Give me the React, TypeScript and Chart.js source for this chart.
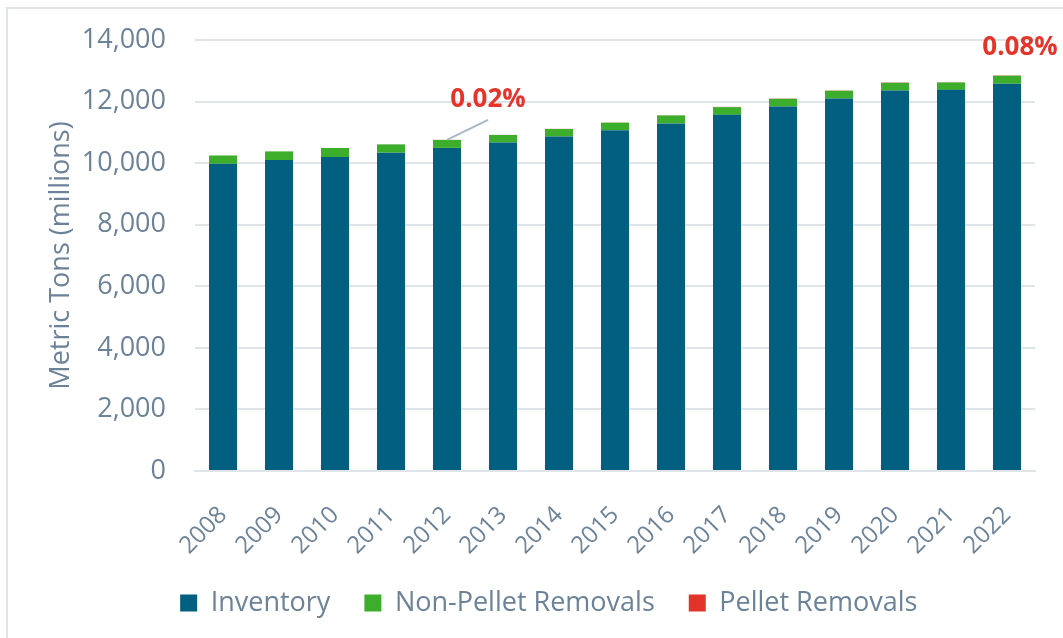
import React, { useEffect, useRef } from "react";
import { Chart, registerables } from "chart.js";

Chart.register(...registerables);

const years = ["2008", "2009", "2010", "2011", "2012", "2013", "2014", "2015", "2016", "2017", "2018", "2019", "2020", "2021", "2022"];
const inventory = [9980, 10100, 10200, 10340, 10495, 10670, 10865, 11070, 11290, 11570, 11840, 12100, 12360, 12380, 12580];
const nonPelletRemovals = [270, 282, 293, 270, 260, 245, 245, 245, 260, 250, 250, 250, 250, 240, 260];
const pelletRemovals = [0, 0, 0.5, 1, 2, 3, 4, 5, 6, 7, 8, 9, 9.5, 9, 10];
const yTicks = [0, 2000, 4000, 6000, 8000, 10000, 12000, 14000];
const annotationYears = ["2012", "2022"];
const annotationTexts = ["0.02%", "0.08%"];

const TEXT = "#6c8298";
const FONT = "'Open Sans', sans-serif";

const annotationPlugin = {
  id: "pctNotes",
  afterDatasetsDraw(chart: any) {
    const { ctx } = chart;
    const x = chart.scales.x;
    const y = chart.scales.y;
    annotationYears.forEach((yr, k) => {
      const i = years.indexOf(yr);
      const total = inventory[i] + nonPelletRemovals[i] + pelletRemovals[i];
      const px = x.getPixelForValue(i);
      const py = y.getPixelForValue(total);
      ctx.save();
      ctx.font = `bold 26px ${FONT}`;
      ctx.fillStyle = "#e5352b";
      ctx.textAlign = "center";
      ctx.textBaseline = "middle";
      if (k === 0) {
        ctx.strokeStyle = "#a9b8c5";
        ctx.lineWidth = 2;
        ctx.beginPath();
        ctx.moveTo(px, py);
        ctx.lineTo(px + 41, py - 20);
        ctx.stroke();
        ctx.fillText(annotationTexts[k], px + 41, py - 40);
      } else {
        ctx.fillText(annotationTexts[k], px + 13, py - 28);
      }
      ctx.restore();
    });
  },
};

export default function App() {
  const ref = useRef<HTMLCanvasElement>(null);
  useEffect(() => {
    const chart = new Chart(ref.current as HTMLCanvasElement, {
      type: "bar",
      data: {
        labels: years,
        datasets: [
          { label: "Inventory", data: inventory, backgroundColor: "#035f80" },
          { label: "Non-Pellet Removals", data: nonPelletRemovals, backgroundColor: "#3dae2b" },
          { label: "Pellet Removals", data: pelletRemovals, backgroundColor: "#e3342a" },
        ],
      },
      options: {
        responsive: false,
        animation: false,
        layout: { padding: { left: 62.5, right: 28, top: 40, bottom: 11.5 } },
        datasets: { bar: { barPercentage: 0.5, categoryPercentage: 1.0 } },
        plugins: {
          tooltip: { enabled: false },
          legend: {
            position: "bottom",
            labels: {
              boxWidth: 17,
              boxHeight: 17,
              padding: 34,
              color: TEXT,
              font: { family: FONT, size: 27 },
            },
          },
        },
        scales: {
          x: {
            stacked: true,
            grid: { display: false, drawTicks: false },
            border: { display: true, color: "#dfe4e9", width: 2 },
            ticks: {
              color: TEXT,
              font: { family: FONT, size: 24 },
              minRotation: 45,
              maxRotation: 45,
              autoSkip: false,
              padding: 30,
            },
            afterFit(scale: any) {
              scale.height = 84.5;
            },
          },
          y: {
            stacked: true,
            min: 0,
            max: 14000,
            afterBuildTicks(scale: any) {
              scale.ticks = yTicks.map((v) => ({ value: v }));
            },
            grid: { color: "#dfe4e9", lineWidth: 2, drawTicks: true, tickLength: 24, tickColor: "rgba(0,0,0,0)" },
            border: { display: false },
            ticks: {
              color: TEXT,
              font: { family: FONT, size: 27 },
              padding: 5,
              callback: (v: any) => Number(v).toLocaleString("en-US"),
            },
            title: {
              display: true,
              text: "Metric Tons (millions)",
              color: TEXT,
              font: { family: FONT, size: 27 },
              padding: { top: -17, bottom: 0 },
            },
            afterFit(scale: any) {
              scale.width = 132.5;
            },
          },
        },
      },
      plugins: [annotationPlugin],
    });
    return () => chart.destroy();
  }, []);
  return (
    <div style={{ position: "fixed", left: 0, top: 0, width: 1063, height: 638, background: "#fff", overflow: "hidden" }}>
      <div
        style={{
          position: "absolute",
          left: 6,
          top: 7,
          width: 2000,
          height: 2000,
          borderLeft: "2px solid #dfe4e8",
          borderTop: "2px solid #dfe4e8",
        }}
      />
      <canvas ref={ref} width={1063} height={638} style={{ position: "absolute", left: 0, top: 0 }} />
    </div>
  );
}
